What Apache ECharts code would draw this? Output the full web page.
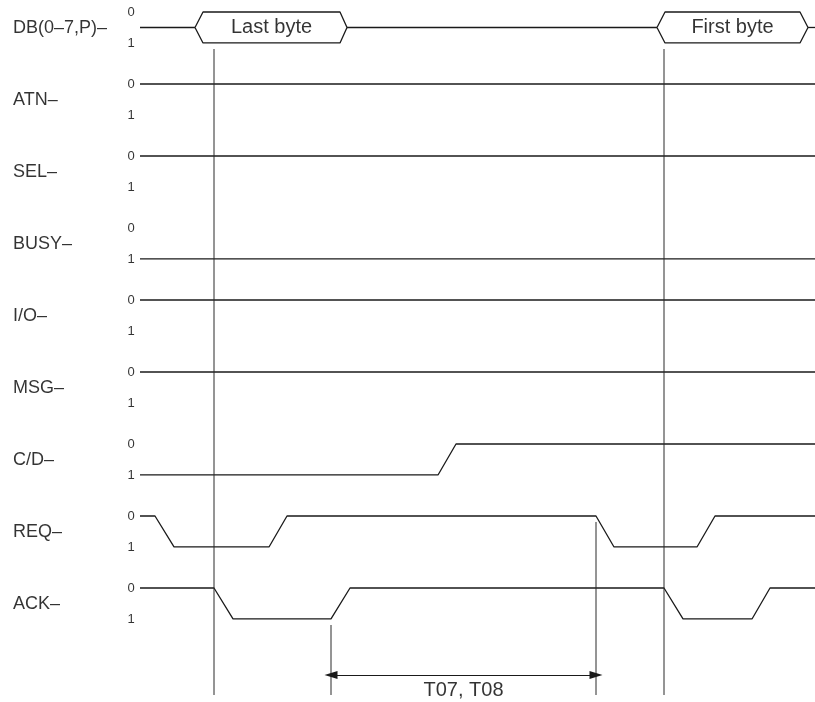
<!DOCTYPE html>
<html>
<head>
<meta charset="utf-8">
<script src="https://cdn.jsdelivr.net/npm/echarts@6/dist/echarts.min.js"></script>
<style>html,body{margin:0;padding:0;background:#fff}#c{width:815px;height:702px}</style>
</head>
<body>
<div id="c"></div>
<script>
// ---- data ----
const signalNames = ['DB(0–7,P)–', 'ATN–', 'SEL–', 'BUSY–', 'I/O–', 'MSG–', 'C/D–', 'REQ–', 'ACK–'];
const levelLabels = ['0', '1'];
const tEnd = 675;
// waveforms: [time, level] (level 0 = upper, 1 = lower)
const atnWave  = [[0, 0], [675, 0]];
const selWave  = [[0, 0], [675, 0]];
const busyWave = [[0, 1], [675, 1]];
const ioWave   = [[0, 0], [675, 0]];
const msgWave  = [[0, 0], [675, 0]];
const cdWave   = [[0, 1], [298, 1], [316, 0], [675, 0]];
const reqWave  = [[0, 0], [15, 0], [34, 1], [129, 1], [147, 0], [456, 0], [474, 1], [557, 1], [575, 0], [675, 0]];
const ackWave  = [[0, 0], [74, 0], [93, 1], [191, 1], [210, 0], [524, 0], [543, 1], [612, 1], [630, 0], [675, 0]];
// data bus windows: [tip start, full start, full end, tip end]
const busWindows = [[55, 63, 200, 207], [517, 525, 660, 668]];
const busTexts = ['Last byte', 'First byte'];
// reference verticals: [time, from row, to row]
const markers = [[74, 0.514, 9.486], [524, 0.514, 9.486], [456, 7.083, 9.486], [191, 8.514, 9.486]];
const intervalSpan = [191, 456];
const intervalText = 'T07, T08';

// ---- layout helpers ----
const LV = 0.43; // level offset in row units
const rowY = (r, lvl) => r + lvl * LV;

const series = [];
const lineStyle = {color: '#1a1a1a', width: 1.3};
const waves = [null, atnWave, selWave, busyWave, ioWave, msgWave, cdWave, reqWave, ackWave];
waves.forEach((w, r) => {
  if (!w) return;
  series.push({type: 'line', data: w.map(p => [p[0], rowY(r, p[1])]), symbol: 'none',
    lineStyle, clip: false, silent: true, animation: false});
});
// data bus
const mid = rowY(0, 0.5);
busWindows.forEach((b) => {
  series.push({type: 'line', data: [[b[0], mid], [b[1], rowY(0, 0)], [b[2], rowY(0, 0)], [b[3], mid],
    [b[2], rowY(0, 1)], [b[1], rowY(0, 1)], [b[0], mid]], symbol: 'none', lineStyle, clip: false, silent: true, animation: false});
});
const busConn = [[0, busWindows[0][0]], [busWindows[0][3], busWindows[1][0]], [busWindows[1][3], tEnd]];
busConn.forEach(s => {
  series.push({type: 'line', data: [[s[0], mid], [s[1], mid]], symbol: 'none', lineStyle, clip: false, silent: true, animation: false});
});
// vertical markers
markers.forEach(m => {
  series.push({type: 'line', data: [[m[0], m[1]], [m[0], m[2]]], symbol: 'none',
    lineStyle: {color: '#2a2a2a', width: 1}, clip: false, silent: true, animation: false});
});
// interval arrow
const arrowRow = 9.208;
series.push({type: 'line', data: [], silent: true, animation: false,
  markLine: {silent: true, animation: false, symbol: ['triangle', 'triangle'], symbolSize: [8, 13],
    lineStyle: {color: '#1a1a1a', width: 1, type: 'solid'}, label: {show: false},
    data: [[{coord: [intervalSpan[0], arrowRow]}, {coord: [intervalSpan[1], arrowRow]}]]}});

// text labels
const font = 'Liberation Sans, Arial, sans-serif';
const nameData = signalNames.map((n, r) => [-127, rowY(r, 0.5), n]);
const lvlData = [];
signalNames.forEach((n, r) => { levelLabels.forEach((l, i) => lvlData.push([-9, rowY(r, i), l])); });
const busTextData = busWindows.map((b, i) => [(b[1] + b[2]) / 2, mid, busTexts[i]]);
const tData = [[(intervalSpan[0] + intervalSpan[1]) / 2, arrowRow + 0.07, intervalText]];
function textSeries(data, lbl) {
  return {type: 'scatter', data, symbolSize: 0, clip: false, silent: true, animation: false,
    label: Object.assign({show: true, color: '#000', fontFamily: font, formatter: p => p.value[2]}, lbl)};
}
series.push(textSeries(nameData, {position: 'inside', align: 'left', verticalAlign: 'middle', fontSize: 18, offset: [0, 1]}));
series.push(textSeries(lvlData, {position: 'inside', align: 'center', verticalAlign: 'middle', fontSize: 13}));
series.push(textSeries(busTextData, {position: 'inside', align: 'center', verticalAlign: 'middle', fontSize: 20}));
series.push(textSeries(tData, {position: 'inside', align: 'center', verticalAlign: 'top', fontSize: 20}));

const chart = echarts.init(document.getElementById('c'), null, {renderer: 'canvas'});
chart.setOption({
  animation: false,
  backgroundColor: '#fff',
  grid: {left: 140, top: 12, right: 0, bottom: 0},
  xAxis: {type: 'value', min: 0, max: tEnd, show: false},
  yAxis: {type: 'value', min: 0, max: 690 / 72, inverse: true, show: false},
  series
});
</script>
</body>
</html>
